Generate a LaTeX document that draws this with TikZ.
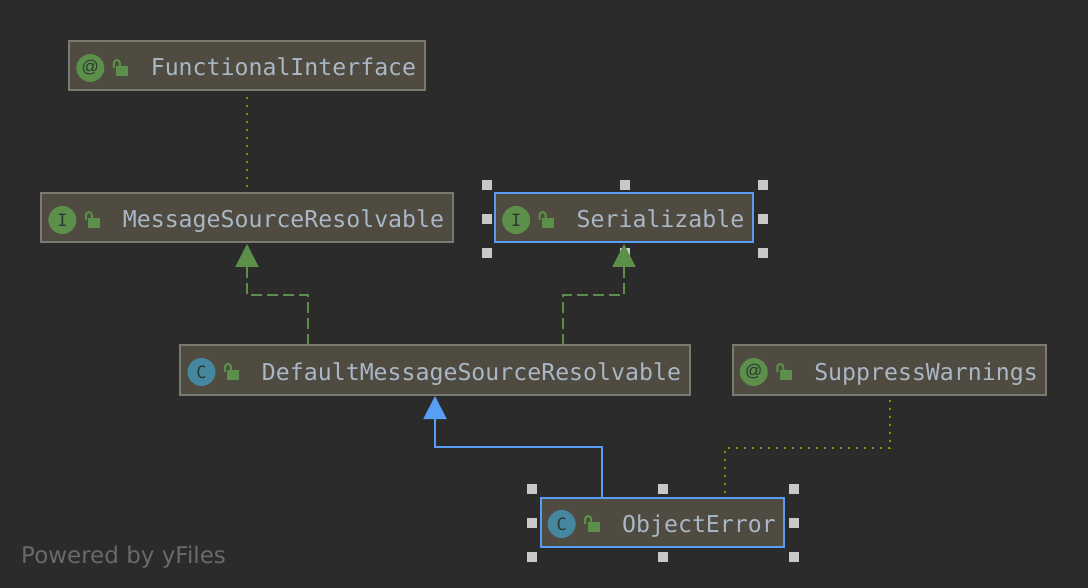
\documentclass[tikz,border=0pt]{standalone}
\usepackage{fontspec}
\setmainfont{DejaVu Sans}
\setmonofont{DejaVu Sans Mono}
\newfontfamily\iconfont{Liberation Sans}
\usetikzlibrary{arrows.meta, positioning, calc}
\definecolor{canvasgray}{HTML}{2B2B2B}
\definecolor{boxfill}{HTML}{4F4B41}
\definecolor{boxline}{HTML}{7A7A72}
\definecolor{selectblue}{HTML}{589DF6}
\definecolor{labelblue}{HTML}{A9B7C6}
\definecolor{implgreen}{HTML}{5C8F4A}
\definecolor{iconteal}{HTML}{44879F}
\definecolor{iconink}{HTML}{2A3A30}
\definecolor{dotolive}{HTML}{8C8C00}
\definecolor{handlegray}{HTML}{C8C8C8}
\definecolor{footgray}{HTML}{6A6A6A}

\begin{document}
\begin{tikzpicture}[x=1pt, y=-1pt,
        classbox/.style={rectangle, draw=boxline, fill=boxfill, line width=2pt, outer sep=0pt, inner xsep=8.5pt, inner ysep=0pt,
            minimum height=49pt, text height=20pt, text depth=0pt, text=labelblue, font=\ttfamily\fontsize{23.2}{26}\selectfont,
            execute at begin node=\hspace*{73pt}},
        selectedbox/.style={classbox, draw=selectblue},
        typeicon/.style={circle, minimum size=28pt, inner sep=0pt, text=iconink, font=\ttfamily\fontsize{17}{17}\selectfont},
        handle/.style={rectangle, fill=handlegray, minimum size=10pt, inner sep=0pt},
        implements/.style={-{Triangle[length=23pt,width=23pt]}, implgreen, line width=2pt, dash pattern=on 11pt off 5pt},
        extends/.style={-{Triangle[length=23pt,width=23pt]}, selectblue, line width=2pt},
        annotated/.style={dotolive, line width=2pt, dash pattern=on 2pt off 6pt},
        lockicon/.pic={
            \fill[implgreen] (2,0) rectangle (14,10);
            \draw[implgreen, line width=2pt] (-0.5,2) -- (-0.5,-3) arc[start angle=180, end angle=360, x radius=3pt, y radius=-3pt] -- (5.5,0);
        },
    ]
    \useasboundingbox (0,0) rectangle (1088,588);
    \fill[canvasgray] (0,0) rectangle (1088,588);

    % Selection handles
    \foreach \x/\y in {487/185, 625/185, 763/185, 487/219, 763/219, 487/253, 625/253, 763/253}
        \node[handle] (s\x\y) at (\x,\y) {};
    \foreach \x/\y in {532/489, 663/489, 794/489, 532/523, 794/523, 532/557, 663/557, 794/557}
        \node[handle] (o\x\y) at (\x,\y) {};

    % Class boxes
    \node[classbox]    (functional) at (247,   66) {FunctionalInterface};
    \node[classbox]    (resolvable) at (247,  218) {MessageSourceResolvable};
    \node[selectedbox] (serial)     at (624,  218) {Serializable};
    \node[classbox]    (default)    at (435,  370) {DefaultMessageSourceResolvable};
    \node[classbox]    (suppress)   at (889.5,370) {SuppressWarnings};
    \node[selectedbox] (objerror)   at (662.5,522) {ObjectError};

    % Icons
    \foreach \n/\t/\c in {functional/{\iconfont @}/implgreen, resolvable/I/implgreen, serial/I/implgreen, default/C/iconteal, suppress/{\iconfont @}/implgreen, objerror/C/iconteal} {
        \node[typeicon, fill=\c] (\n icon) at ([shift={(21pt,-2pt)}]\n.west) {\t};
        \pic at ([xshift=45pt]\n.west) {lockicon};
    }

    % Connectors
    \draw[annotated, shorten <=7pt, shorten >=6pt] (functional.south) -- (resolvable.north);
    \draw[implements, shorten >=1.5pt] ([xshift=-127pt]default.north) |- ++(-61,-50) -- (resolvable.south);
    \draw[implements, shorten >=1.5pt] ([xshift=128pt]default.north) |- ++(61,-50) -- (serial.south);
    \draw[extends, shorten >=1.5pt] ([xshift=-60.5pt]objerror.north) |- ($(default.south)+(0,52)$) -- (default.south);
    \draw[annotated, shorten <=5pt, shorten >=5pt] (suppress.south) |- ($(objerror.north)+(62,-50)$) -- ([xshift=62pt]objerror.north);

    \node[text=footgray, anchor=base west, inner sep=0pt, font=\fontsize{23}{25}\selectfont] (powered) at (21,563.5) {Powered by yFiles};
\end{tikzpicture}
\end{document}
